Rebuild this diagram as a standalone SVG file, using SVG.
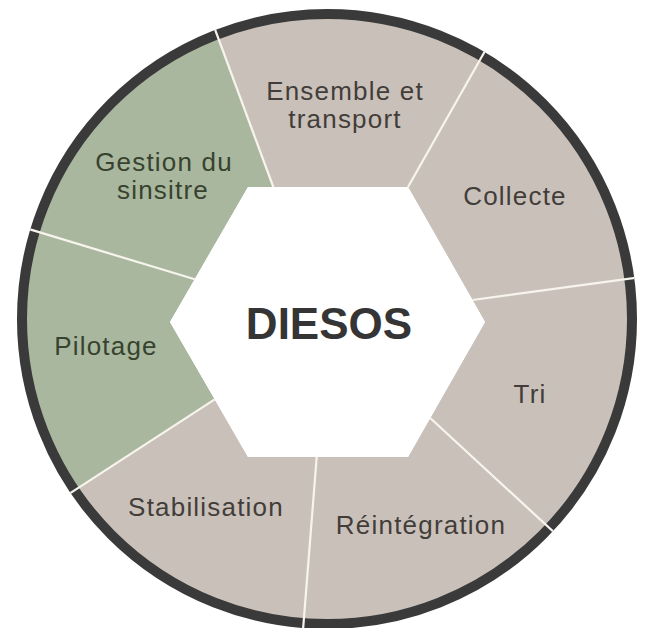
<svg xmlns="http://www.w3.org/2000/svg" width="646" height="628" viewBox="0 0 646 628">
<defs>
<clipPath id="disc"><circle cx="327" cy="319" r="306"/></clipPath>
<clipPath id="outer"><circle cx="327" cy="319" r="310"/></clipPath>
<style>
.gray{fill:#c9c1b9}
.green{fill:#a9b79e}
.lbl{font-family:"Liberation Sans",Arial,sans-serif;font-size:26px;letter-spacing:1.2px;text-anchor:middle}
.lg{fill:#433d3a}
.lgr{fill:#37432f}
.div{stroke:#f7f4ee;stroke-width:2.2;fill:none}
.ring{fill:none;stroke:#3a3a3a;stroke-width:10}
.title{font-family:"Liberation Sans",Arial,sans-serif;font-size:44px;font-weight:bold;fill:#353535;text-anchor:middle}
</style>
</defs>
<rect width="646" height="628" fill="#ffffff"/>
<g clip-path="url(#disc)">
<g id="seg-ensemble"><polygon class="gray" points="273.3,187 408,187 631.5,-208.4 101.4,-274.9"/></g>
<g id="seg-collecte"><polygon class="gray" points="408,187 472.5,300 955,234 631.5,-208.4"/></g>
<g id="seg-tri"><polygon class="gray" points="472.5,300 485,322 430.2,418 781.5,744.1 955,234"/></g>
<g id="seg-reintegration"><polygon class="gray" points="430.2,418 408,457 316.7,457 276.5,964.1 781.5,744.1"/></g>
<g id="seg-stabilisation"><polygon class="gray" points="316.7,457 248,457 214.7,399.3 -186.6,661.5 276.5,964.1"/></g>
<g id="seg-pilotage"><polygon class="green" points="214.7,399.3 170,322 194.7,279.3 -291.5,131.4 -186.6,661.5"/></g>
<g id="seg-gestion"><polygon class="green" points="194.7,279.3 248,187 273.3,187 101.4,-274.9 -291.5,131.4"/></g>
</g>
<circle class="ring" cx="327" cy="319" r="305"/>
<g id="connectors" clip-path="url(#outer)">
<line class="div" x1="273.3" y1="187" x2="204.5" y2="1"/>
<line class="div" x1="408" y1="187" x2="497.6" y2="28.7"/>
<line class="div" x1="472.5" y1="300" x2="651" y2="275.8"/>
<line class="div" x1="430.2" y1="418" x2="583.3" y2="559.3"/>
<line class="div" x1="316.7" y1="457" x2="300.6" y2="660.4"/>
<line class="div" x1="214.7" y1="399.3" x2="53.3" y2="504.2"/>
<line class="div" x1="194.7" y1="279.3" x2="15.5" y2="225"/>
</g>
<g id="hub">
<polygon fill="#ffffff" points="170,322 248,187 408,187 485,322 408,457 248,457"/>
<text class="title" x="329" y="339">DIESOS</text>
</g>
<g id="labels">
<text class="lbl lg" x="345" y="100">Ensemble et</text>
<text class="lbl lg" x="345" y="128">transport</text>
<text class="lbl lg" x="515" y="205">Collecte</text>
<text class="lbl lg" x="530" y="403">Tri</text>
<text class="lbl lg" x="421" y="534">Réintégration</text>
<text class="lbl lg" x="206" y="516">Stabilisation</text>
<text class="lbl lgr" x="106" y="355">Pilotage</text>
<text class="lbl lgr" x="164" y="171">Gestion du</text>
<text class="lbl lgr" x="163" y="199">sinsitre</text>
</g>
</svg>
